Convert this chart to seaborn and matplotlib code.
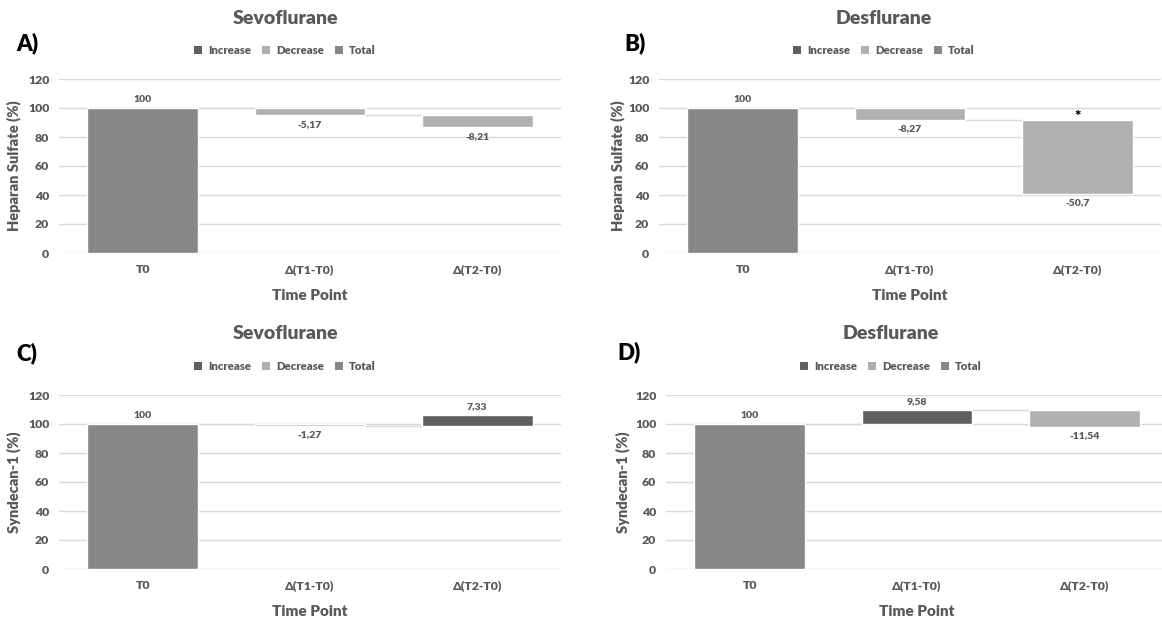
import matplotlib
matplotlib.use("Agg")
import matplotlib.pyplot as plt
from matplotlib.patches import Patch
import pandas as pd
import seaborn as sns

categories = ["T0", "Δ(T1-T0)", "Δ(T2-T0)"]
hs_sevo = [100, -5.17, -8.21]
hs_des = [100, -8.27, -50.7]
sdc_sevo = [100, -1.27, 7.33]
sdc_des = [100, 9.58, -11.54]

panel_letters = ["A)", "B)", "C)", "D)"]
titles = ["Sevoflurane", "Desflurane", "Sevoflurane", "Desflurane"]
ylabels = ["Heparan Sulfate (%)", "Heparan Sulfate (%)", "Syndecan-1 (%)", "Syndecan-1 (%)"]
star_bar = [None, 2, None, None]  # bar carrying the significance mark

COLORS = {"Increase": "#5f5f5f", "Decrease": "#b0b0b0", "Total": "#878787"}
TXT = "#595959"
GRID = "#d9d9d9"
BAR_W = 0.66
WT = "heavy"

sns.set_theme(style="white")
plt.rcParams["font.family"] = ["Lato", "DejaVu Sans"]
plt.rcParams["font.weight"] = "bold"

W, H = 1162, 621
fig = plt.figure(figsize=(W / 100, H / 100), dpi=100)

# pixel boxes (left, right, top, bottom) of each plot area, plus header centre x
boxes = [(59, 561, 79, 253), (659, 1161, 79, 253),
         (59, 561, 395, 569), (666, 1168, 395, 569)]
head_x = [285, 884, 285, 891]
letter_xy = [(16, 43), (624, 43), (16, 353), (617, 352)]
ylab_x = [-0.075, -0.067, -0.075, -0.071]


def waterfall(ax, values, star=None):
    steps = pd.DataFrame({"step": categories, "value": values})
    steps["kind"] = ["Total"] + ["Increase" if v > 0 else "Decrease" for v in values[1:]]
    steps["end"] = steps["value"].cumsum()
    steps["start"] = steps["end"] - steps["value"]

    for i, row in steps.iterrows():
        sns.barplot(data=steps.iloc[[i]], x="step", y="value", order=categories,
                    color=COLORS[row.kind], saturation=1, width=BAR_W,
                    bottom=row.start, errorbar=None, ax=ax, zorder=2)
        lab = f"{row.value:g}".replace(".", ",")
        if row.kind == "Decrease":
            ax.annotate(lab, (i, row.end), xytext=(0, -3), textcoords="offset points",
                        ha="center", va="top", fontsize=7.5, color=TXT, fontweight=WT)
        else:
            ax.annotate(lab, (i, row.end), xytext=(0, 3), textcoords="offset points",
                        ha="center", va="bottom", fontsize=7.5, color=TXT, fontweight=WT)
        if star == i:
            ax.annotate("*", (i, row.start), xytext=(0, -2), textcoords="offset points",
                        ha="center", va="bottom", fontsize=11, color="black", fontweight=WT)

    # connector lines between consecutive bars
    for i in range(len(steps) - 1):
        lvl = steps["end"].iloc[i]
        ax.plot([i + BAR_W / 2, i + 1 - BAR_W / 2], [lvl, lvl], color=GRID, lw=1, zorder=1)


all_values = [hs_sevo, hs_des, sdc_sevo, sdc_des]
for k, vals in enumerate(all_values):
    l, r, t, b = boxes[k]
    ax = fig.add_axes([l / W, 1 - b / H, (r - l) / W, (b - t) / H])
    waterfall(ax, vals, star_bar[k])

    ax.set_ylim(0, 120)
    ax.set_xlim(-0.5, 2.5)
    ax.set_yticks(range(0, 121, 20))
    ax.yaxis.grid(True, color=GRID, lw=1)
    ax.xaxis.grid(False)
    ax.set_axisbelow(True)
    for s in ax.spines.values():
        s.set_visible(False)
    ax.tick_params(axis="both", length=0, labelsize=8.8, labelcolor=TXT)
    ax.tick_params(axis="x", pad=8)
    ax.tick_params(axis="y", pad=7)
    for tl in ax.get_xticklabels() + ax.get_yticklabels():
        tl.set_fontweight(WT)

    ax.set_xlabel("Time Point", fontsize=11, color=TXT, fontweight=WT)
    ax.xaxis.set_label_coords(0.5, -0.205)
    ax.set_ylabel(ylabels[k], fontsize=10.5, color=TXT, fontweight=WT)
    ax.yaxis.set_label_coords(ylab_x[k], 0.5)

    hx = head_x[k] / W
    fig.text(hx, 1 - (t - 61) / H, titles[k], ha="center", va="center",
             fontsize=14, color=TXT, fontweight=WT)
    handles = [Patch(facecolor=COLORS[n], edgecolor="none", label=n)
               for n in ["Increase", "Decrease", "Total"]]
    fig.legend(handles=handles, loc="center", bbox_to_anchor=(hx, 1 - (t - 29) / H),
               ncol=3, frameon=False, handlelength=0.7, handleheight=0.7,
               handletextpad=0.5, columnspacing=1.0, labelcolor=TXT,
               prop={"weight": WT, "size": 8.2})

    lx, ly = letter_xy[k]
    fig.text(lx / W, 1 - ly / H, panel_letters[k], ha="left", va="center",
             fontsize=16, color="black", fontweight=WT)

fig.savefig("out.png", dpi=100)
